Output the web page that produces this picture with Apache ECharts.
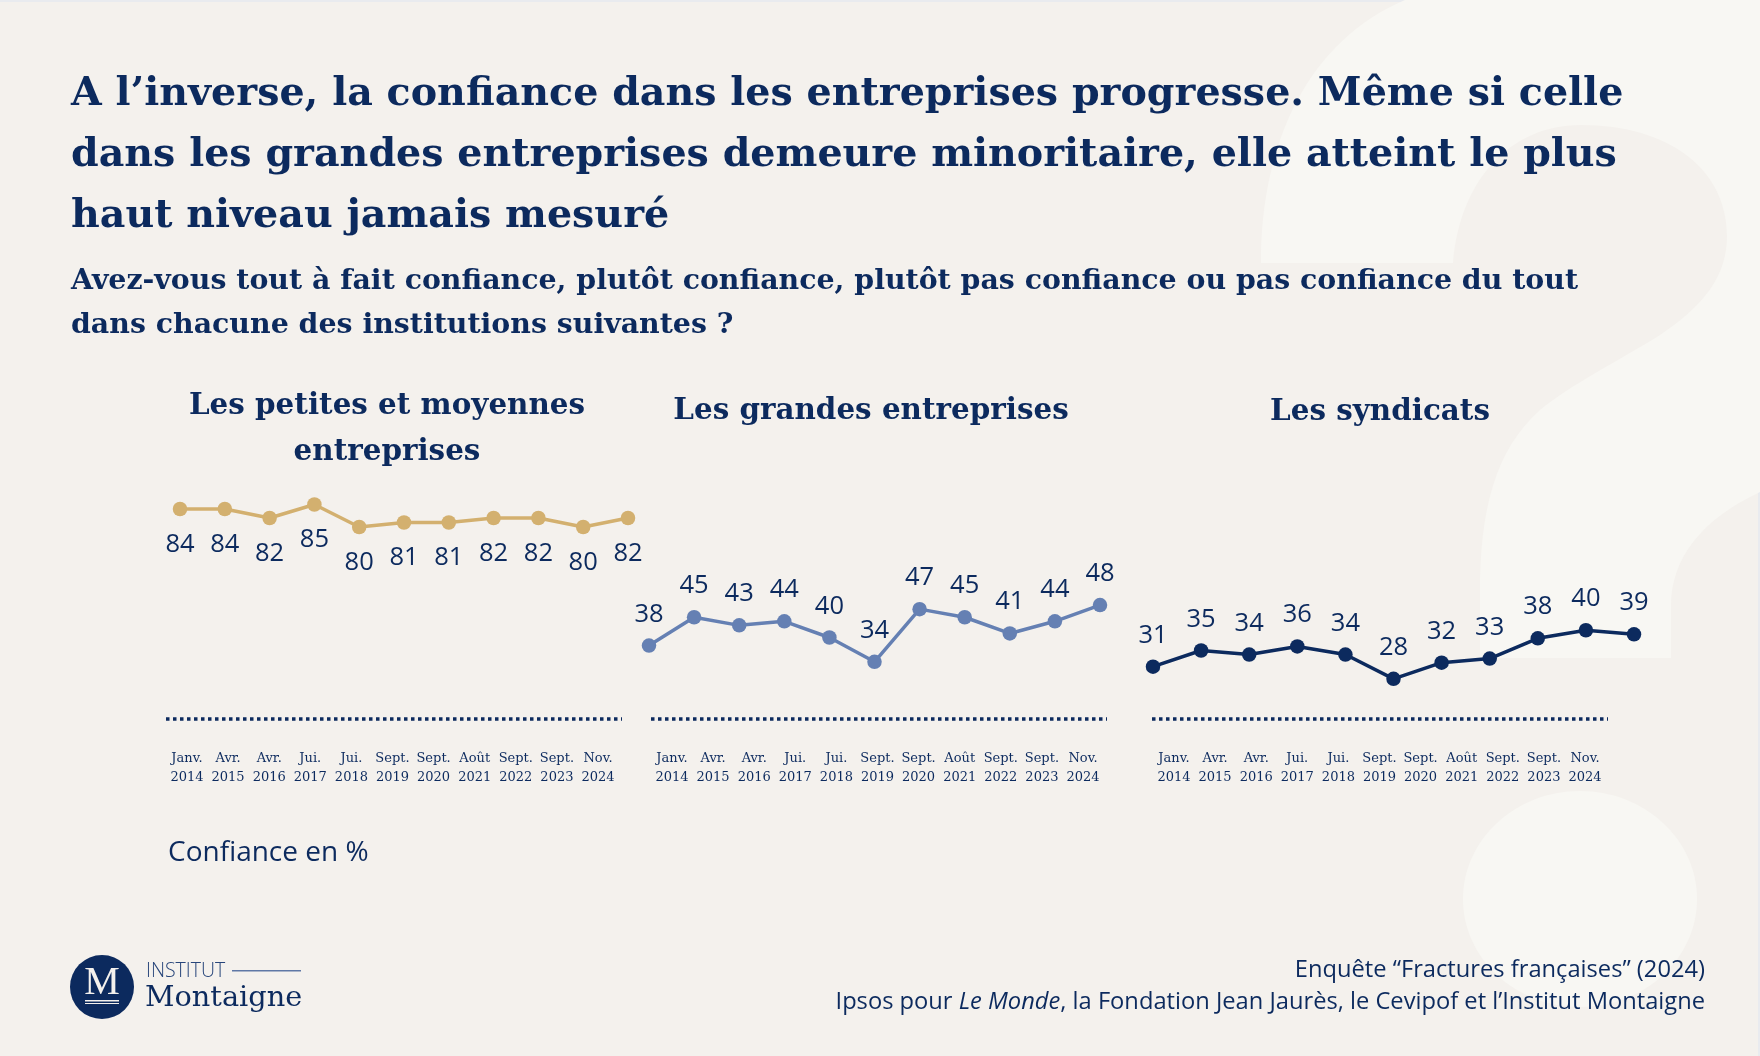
<!DOCTYPE html>
<html>
<head>
<meta charset="utf-8">
<title>Confiance dans les entreprises</title>
<style>
	html, body { margin: 0; padding: 0; background: #f4f1ed; }
	#chart { width: 1760px; height: 1056px; }
</style>
<script src="https://cdn.jsdelivr.net/npm/echarts@6/dist/echarts.min.js"></script>
</head>
<body>
<div id="chart"></div>
<script>
	// donnees
	var months = ["Janv.", "Avr.", "Avr.", "Jui.", "Jui.", "Sept.", "Sept.", "Août", "Sept.", "Sept.", "Nov."];
	var years = ["2014", "2015", "2016", "2017", "2018", "2019", "2020", "2021", "2022", "2023", "2024"];
	var pmeValues = [84, 84, 82, 85, 80, 81, 81, 82, 82, 80, 82];
	var grandesValues = [38, 45, 43, 44, 40, 34, 47, 45, 41, 44, 48];
	var syndicatsValues = [31, 35, 34, 36, 34, 28, 32, 33, 38, 40, 39];

	var navy = "#0c2a5e";
	var serif = "DejaVu Serif";
	var sans = "Open Sans";

	var dateLabels = [];
	for (var i = 0; i < months.length; i++) {
		dateLabels.push(months[i] + "\n" + years[i]);
	}

	// un panneau = une grille pour la courbe + une grille pour les dates
	var panels = [
		{ data: pmeValues, color: "#d3b06f", left: 180, right: 628, top: 482, height: 90, min: 70, max: 90, pos: "bottom", dist: 15, axisLeft: 187, axisRight: 598, dotLeft: 166 },
		{ data: grandesValues, color: "#6580b3", left: 649, right: 1100, top: 597, height: 81, min: 30, max: 50, pos: "top", dist: 11, axisLeft: 672, axisRight: 1083, dotLeft: 651 },
		{ data: syndicatsValues, color: navy, left: 1153, right: 1634, top: 610, height: 81, min: 25, max: 45, pos: "top", dist: 11, axisLeft: 1174, axisRight: 1585, dotLeft: 1152 }
	];

	var grid = [], xAxis = [], yAxis = [], series = [], dots = [];
	panels.forEach(function (p, n) {
		grid.push({ left: p.left, width: p.right - p.left, top: p.top, height: p.height });
		grid.push({ left: p.axisLeft, width: p.axisRight - p.axisLeft, top: 719, height: 1 });

		xAxis.push({ type: "category", gridIndex: n * 2, data: dateLabels, boundaryGap: false, show: false });
		xAxis.push({
			type: "category",
			gridIndex: n * 2 + 1,
			data: dateLabels,
			boundaryGap: false,
			axisLine: { show: false },
			axisTick: { show: false },
			axisLabel: { interval: 0, margin: 29, color: navy, fontFamily: serif, fontSize: 13, lineHeight: 19 }
		});
		yAxis.push({ type: "value", gridIndex: n * 2, min: p.min, max: p.max, show: false });
		yAxis.push({ type: "value", gridIndex: n * 2 + 1, show: false });

		series.push({
			type: "line",
			xAxisIndex: n * 2,
			yAxisIndex: n * 2,
			data: p.data,
			symbol: "circle",
			symbolSize: 14.5,
			animation: false,
			lineStyle: { color: p.color, width: 3.5 },
			itemStyle: { color: p.color },
			label: { show: true, position: p.pos, distance: p.dist, color: navy, fontFamily: sans, fontSize: 25.5 }
		});

		dots.push({
			type: "line",
			z: 5,
			shape: { x1: p.dotLeft, y1: 719, x2: p.dotLeft + 456, y2: 719 },
			style: { stroke: navy, lineWidth: 3.5, lineDash: [3.5, 3.5] }
		});
	});

	// grand point d'interrogation en fond
	var questionPath = "M1261 263 L1453 263 C1460 180 1510 125 1581 125 C1670 125 1727 170 1727 236 " +
		"C1727 275 1705 305 1660 335 C1620 360 1570 385 1540 410 C1495 450 1480 510 1480 593 L1480 658 L1671 658 " +
		"L1671 606 C1671 560 1700 520 1760 492 L1760 0 L1405 0 C1310 40 1261 140 1261 263 Z";

	series.unshift({
		type: "custom",
		coordinateSystem: "none",
		silent: true,
		z: 0,
		data: [0],
		renderItem: function () {
			return {
				type: "group",
				children: [
					{ type: "path", shape: { pathData: questionPath, x: 1261, y: 0, width: 499, height: 658, layout: "cover" }, style: { fill: "#f8f7f3" } },
					{ type: "ellipse", shape: { cx: 1580, cy: 899, rx: 117, ry: 108 }, style: { fill: "#f8f7f3" } }
				]
			};
		}
	});

	var option = {
		backgroundColor: "#f4f1ed",
		animation: false,
		title: [
			{
				left: 71, top: 64, padding: 0,
				text: "A l’inverse, la confiance dans les entreprises progresse. Même si celle\ndans les grandes entreprises demeure minoritaire, elle atteint le plus\nhaut niveau jamais mesuré",
				textStyle: { color: navy, fontFamily: serif, fontWeight: "bold", fontSize: 39.6, lineHeight: 61 }
			},
			{
				left: 71, top: 260, padding: 0,
				text: "Avez-vous tout à fait confiance, plutôt confiance, plutôt pas confiance ou pas confiance du tout\ndans chacune des institutions suivantes ?",
				textStyle: { color: navy, fontFamily: serif, fontWeight: "bold", fontSize: 28.4, lineHeight: 44 }
			},
			{
				left: 387, top: 383, padding: 0, textAlign: "center",
				text: "Les petites et moyennes\nentreprises",
				textStyle: { color: navy, fontFamily: serif, fontWeight: "bold", fontSize: 29.4, lineHeight: 46 }
			},
			{
				left: 871, top: 388, padding: 0, textAlign: "center",
				text: "Les grandes entreprises",
				textStyle: { color: navy, fontFamily: serif, fontWeight: "bold", fontSize: 29.4, lineHeight: 46 }
			},
			{
				left: 1380, top: 389, padding: 0, textAlign: "center",
				text: "Les syndicats",
				textStyle: { color: navy, fontFamily: serif, fontWeight: "bold", fontSize: 29.4, lineHeight: 46 }
			},
			{
				left: 168, top: 836, padding: 0,
				text: "Confiance en %",
				textStyle: { color: navy, fontFamily: sans, fontWeight: "normal", fontSize: 28, lineHeight: 34 }
			},
			{
				left: 1705, top: 954, padding: 0, textAlign: "right",
				text: "Enquête “Fractures françaises” (2024)\nIpsos pour {i|Le Monde}, la Fondation Jean Jaurès, le Cevipof et l’Institut Montaigne",
				textStyle: {
					color: navy, fontFamily: sans, fontWeight: "normal", fontSize: 23.7, lineHeight: 32,
					rich: { i: { fontStyle: "italic", color: navy, fontFamily: sans, fontSize: 23.7, lineHeight: 32 } }
				}
			}
		],
		grid: grid,
		xAxis: xAxis,
		yAxis: yAxis,
		series: series,
		graphic: {
			elements: [
				// liseré du cadre
				{ type: "rect", shape: { x: 0, y: 0, width: 1760, height: 2 }, style: { fill: "#e9ebef" } },
				{ type: "rect", shape: { x: 1758, y: 0, width: 2, height: 1056 }, style: { fill: "#e9ebef" } },
				// logo
				{ type: "circle", shape: { cx: 102, cy: 987, r: 32 }, style: { fill: navy } },
				{ type: "text", x: 102, y: 983, style: { text: "M", fill: "#f4f1ed", font: "40px 'Liberation Serif'", textAlign: "center", textVerticalAlign: "middle" } },
				{ type: "rect", shape: { x: 85, y: 1000, width: 34, height: 1.5 }, style: { fill: "#f4f1ed" } },
				{ type: "rect", shape: { x: 85, y: 1003, width: 34, height: 1 }, style: { fill: "#f4f1ed" } },
				{ type: "text", x: 146, y: 971, style: { text: "INSTITUT", fill: "#27457a", font: "300 19.5px 'Open Sans'", textVerticalAlign: "middle" } },
				{ type: "rect", shape: { x: 232, y: 970, width: 69, height: 1.5 }, style: { fill: "#5f78a6" } },
				{ type: "text", x: 145, y: 999, style: { text: "Montaigne", fill: navy, font: "28.8px 'DejaVu Serif'", textVerticalAlign: "middle" } }
			].concat(dots)
		}
	};

	var chart = echarts.init(document.getElementById("chart"));
	chart.setOption(option);
</script>
</body>
</html>
